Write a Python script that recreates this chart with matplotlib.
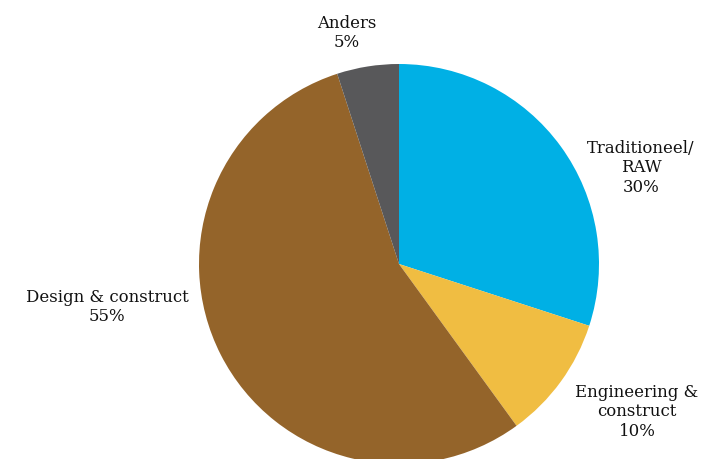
import matplotlib
matplotlib.use("Agg")
import matplotlib.pyplot as plt

categories = ["Traditioneel/\nRAW", "Engineering &\nconstruct", "Design & construct", "Anders"]
values = [30, 10, 55, 5]
colors = ["#00B0E5", "#F0BD42", "#94642A", "#58585A"]

W, H = 701, 460
fig = plt.figure(figsize=(W / 100, H / 100), dpi=100)
ax = fig.add_axes([0, 0, 1, 1])

ax.pie(values, colors=colors, startangle=90, counterclock=False,
       center=(399, H - 265), radius=200, frame=True,
       wedgeprops=dict(linewidth=0))
ax.set_xlim(0, W)
ax.set_ylim(0, H)
ax.set_aspect("equal")
ax.axis("off")

label_pos = [(641, H - 168), (637, H - 412), (107, H - 307), (347, H - 33)]
font = dict(family="DejaVu Serif", size=11.9, color="#111111",
            ha="center", va="center", linespacing=1.22)
for cat, v, (x, y) in zip(categories, values, label_pos):
    ax.text(x, y, f"{cat}\n{v}%", **font)

fig.savefig("out.png", dpi=100)
